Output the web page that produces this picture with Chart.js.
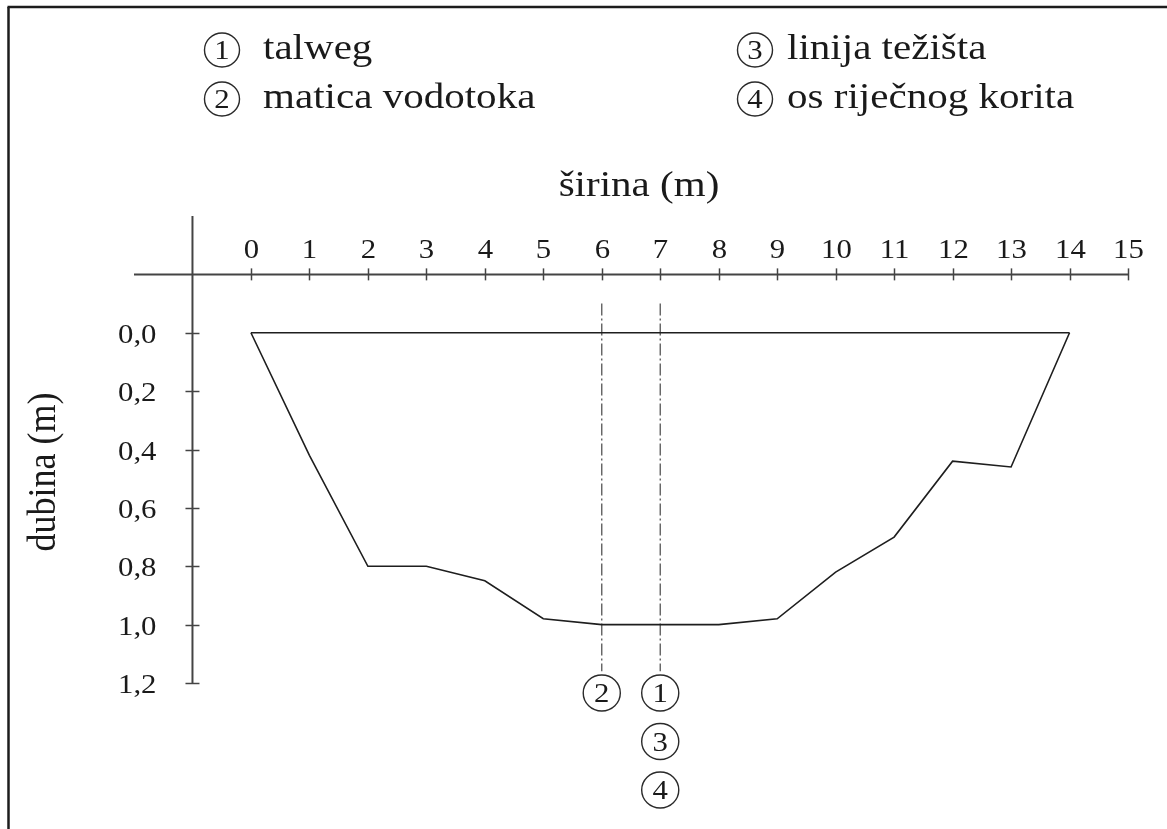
<!DOCTYPE html>
<html>
<head>
<meta charset="utf-8">
<title>Poprečni profil vodotoka</title>
<script src="https://cdn.jsdelivr.net/npm/chart.js@4/dist/chart.umd.min.js"></script>
<style>
    html, body { margin: 0; padding: 0; background: #fff; }
    #ProfileChart { display: block; }
</style>
</head>
<body>
<canvas id="ProfileChart" width="1167" height="829"></canvas>
<script>
// Cross-section of the river bed (width in m, depth in m)
const widthPoints = [0, 1, 2, 3, 4, 5, 6, 7, 8, 9, 10, 11, 12, 13, 14];
const depthPoints = [0, 0.42, 0.8, 0.8, 0.85, 0.98, 1.0, 1.0, 1.0, 0.98, 0.82, 0.7, 0.44, 0.46, 0];
const waterLevelWidth = [0, 14];
const waterLevelDepth = [0, 0];

// Axis ticks
const xTickValues = [0, 1, 2, 3, 4, 5, 6, 7, 8, 9, 10, 11, 12, 13, 14, 15];
const xTickLabels = ['0', '1', '2', '3', '4', '5', '6', '7', '8', '9', '10', '11', '12', '13', '14', '15'];
const yTickValues = [0.0, 0.2, 0.4, 0.6, 0.8, 1.0, 1.2];
const yTickLabels = ['0,0', '0,2', '0,4', '0,6', '0,8', '1,0', '1,2'];

// Marker lines (matica vodotoka at 6, talweg / težište / os at 7)
const markerWidth = [6, 7];
const markerDepthFrom = [-0.1, -0.1];
const markerDepthTo = [1.16, 1.16];
const markerNumbers = [['2'], ['1', '3', '4']];

// Legend
const legendNumbers = ['1', '2', '3', '4'];
const legendTexts = ['talweg', 'matica vodotoka', 'linija težišta', 'os riječnog korita'];

const Style = {
    font: '"Liberation Serif", "Times New Roman", serif',
    stretch: 1.14,
    ink: '#1a1a1a',
    axis: '#444',
    dash: '#555'
};

//#region Helpers
function drawText(ctx, text, x, y, size, align, baseline) {
    ctx.save();
    ctx.font = size + 'px ' + Style.font;
    ctx.fillStyle = Style.ink;
    ctx.translate(x, y);
    ctx.scale(Style.stretch, 1);
    ctx.textAlign = align;
    ctx.textBaseline = baseline;
    ctx.fillText(text, 0, 0);
    ctx.restore();
}

function drawCircledNumber(ctx, num, cx, cy, r) {
    ctx.save();
    ctx.strokeStyle = '#2a2a2a';
    ctx.lineWidth = 1.4;
    ctx.beginPath();
    ctx.ellipse(cx, cy, r * 1.03, r, 0, 0, Math.PI * 2);
    ctx.stroke();
    ctx.restore();
    drawText(ctx, num, cx, cy + 9, 27, 'center', 'alphabetic');
}

function line(ctx, x1, y1, x2, y2) {
    ctx.beginPath();
    ctx.moveTo(x1, y1);
    ctx.lineTo(x2, y2);
    ctx.stroke();
}
//#endregion

// Draws frame, crossed axes, tick labels, titles and legend
const crossAxesPlugin = {
    id: 'crossAxes',
    beforeDatasetsDraw(chart) {
        const ctx = chart.ctx;
        const xs = chart.scales.x;
        const ys = chart.scales.y;

        // outer frame (only top and left visible)
        ctx.save();
        ctx.strokeStyle = '#1c1c1c';
        ctx.lineWidth = 2.5;
        line(ctx, 8.5, 7, 8.5, 829);
        line(ctx, 7.5, 7, 1167, 7);

        // axes
        const axisY = ys.getPixelForValue(-0.2);
        const axisX = xs.getPixelForValue(-1);
        ctx.strokeStyle = Style.axis;
        ctx.lineWidth = 2;
        line(ctx, xs.left, axisY, xs.getPixelForValue(15), axisY);
        line(ctx, axisX, ys.top, axisX, ys.getPixelForValue(1.2));
        ctx.lineWidth = 1.5;
        xTickValues.forEach((v, i) => {
            const px = Math.round(xs.getPixelForValue(v)) + 0.5;
            line(ctx, px, axisY - 6, px, axisY + 6);
            drawText(ctx, xTickLabels[i], px, axisY - 16, 27, 'center', 'alphabetic');
        });
        yTickValues.forEach((v, i) => {
            const py = Math.round(ys.getPixelForValue(v)) + 0.5;
            line(ctx, axisX - 7, py, axisX + 7, py);
            drawText(ctx, yTickLabels[i], axisX - 36, py + 9, 27, 'right', 'alphabetic');
        });
        ctx.restore();

        // axis titles
        drawText(ctx, 'širina (m)', 639, 196, 36, 'center', 'alphabetic');
        ctx.save();
        ctx.font = '36px ' + Style.font;
        ctx.fillStyle = Style.ink;
        ctx.translate(55, 472);
        ctx.scale(Style.stretch, 1);
        ctx.rotate(-Math.PI / 2);
        ctx.textAlign = 'center';
        ctx.textBaseline = 'alphabetic';
        ctx.fillText('dubina (m)', 0, 0);
        ctx.restore();

        // legend
        const cols = [{c: 222, t: 263}, {c: 755, t: 787}];
        const rows = [59, 108];
        legendTexts.forEach((txt, i) => {
            const col = cols[Math.floor(i / 2)];
            const base = rows[i % 2];
            drawCircledNumber(ctx, legendNumbers[i], col.c, base - 9, 17);
            drawText(ctx, txt, col.t, base, 36, 'left', 'alphabetic');
        });
    },
    afterDatasetsDraw(chart) {
        const ctx = chart.ctx;
        const xs = chart.scales.x;
        const ys = chart.scales.y;
        const bottom = ys.getPixelForValue(1.2);
        markerWidth.forEach((w, i) => {
            const cx = xs.getPixelForValue(w);
            markerNumbers[i].forEach((n, j) => {
                drawCircledNumber(ctx, n, cx, bottom + 10 + j * 48.5, 18);
            });
        });
    }
};

function buildDatasets() {
    const sets = [
        {
            label: 'profil',
            data: widthPoints.map((w, i) => ({x: w, y: depthPoints[i]})),
            borderColor: '#1e1e1e',
            borderWidth: 1.6
        },
        {
            label: 'razina vode',
            data: waterLevelWidth.map((w, i) => ({x: w, y: waterLevelDepth[i]})),
            borderColor: '#1e1e1e',
            borderWidth: 1.6
        }
    ];
    markerWidth.forEach((w, i) => {
        sets.push({
            label: 'oznaka ' + w,
            data: [{x: w, y: markerDepthFrom[i]}, {x: w, y: markerDepthTo[i]}],
            borderColor: Style.dash,
            borderWidth: 1.3,
            borderDash: [12, 3, 2, 3]
        });
    });
    return sets.map(s => Object.assign({showLine: true, pointRadius: 0, tension: 0, fill: false}, s));
}

new Chart(document.getElementById('ProfileChart'), {
    type: 'scatter',
    data: { datasets: buildDatasets() },
    options: {
        responsive: false,
        animation: false,
        events: [],
        layout: { padding: { left: 134, right: 39, top: 216, bottom: 146 } },
        plugins: {
            legend: { display: false },
            tooltip: { enabled: false }
        },
        scales: {
            x: { type: 'linear', min: -2, max: 15, display: false },
            y: { type: 'linear', min: -0.4, max: 1.2, reverse: true, display: false }
        }
    },
    plugins: [crossAxesPlugin]
});
</script>
</body>
</html>
